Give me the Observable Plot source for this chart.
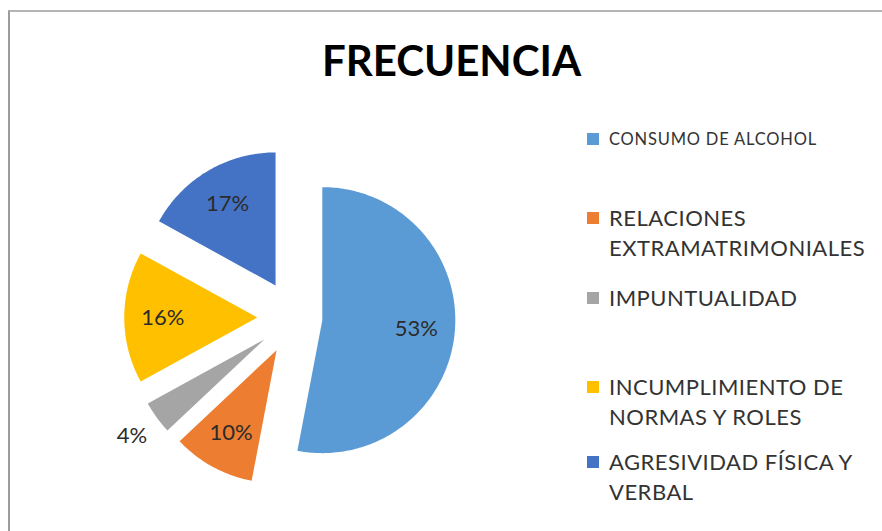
<!DOCTYPE html>
<html><head><meta charset="utf-8">
<script src="https://cdn.jsdelivr.net/npm/d3@7"></script>
<script src="https://cdn.jsdelivr.net/npm/@observablehq/plot@0.6"></script>
<style>
body{margin:0;background:#fff;}
#frame{position:relative;width:882px;height:531px;overflow:hidden;background:#fff;font-family:Lato,"Open Sans",sans-serif;}
#border{position:absolute;left:8px;top:10px;right:-5px;bottom:-5px;border-left:2px solid #9c9c9c;border-top:2px solid #b4b4b4;}
#title{position:absolute;left:0;width:903px;top:34px;text-align:center;font-weight:700;font-size:42px;line-height:52px;color:#000;}
#chart{position:absolute;left:0;top:100px;}
.item{position:absolute;left:587px;color:#333;}
.sw{position:absolute;left:0;width:12px;height:12px;}
.tx{position:absolute;left:22px;white-space:nowrap;}
</style></head>
<body>
<div id="frame">
<div id="border"></div>
<div id="title">FRECUENCIA</div>
<div id="chart"></div>
<div id="legend"></div>
</div>
<script>
const categories = ["CONSUMO DE ALCOHOL","RELACIONES EXTRAMATRIMONIALES","IMPUNTUALIDAD","INCUMPLIMIENTO DE NORMAS Y ROLES","AGRESIVIDAD FÍSICA Y VERBAL"];
const percents = [53,10,4,16,17];
const colors = ["#5B9BD5","#ED7D31","#A5A5A5","#FFC000","#4472C4"];
const legendLines = [["CONSUMO DE ALCOHOL"],["RELACIONES","EXTRAMATRIMONIALES"],["IMPUNTUALIDAD"],["INCUMPLIMIENTO DE","NORMAS Y ROLES"],["AGRESIVIDAD FÍSICA Y","VERBAL"]];

// layout
const W = 570, H = 420, R = 133, CX = 294, CY = 217;
const explode = i => i === 0 ? 0.21 : 0.28;

const total = d3.sum(percents);
const points = [];
const labels = [];
let acc = 0;
percents.forEach((p, i) => {
  const a0 = acc / total * 2 * Math.PI;
  const a1 = (acc + p) / total * 2 * Math.PI;
  acc += p;
  const m = (a0 + a1) / 2;
  const ox = explode(i) * Math.sin(m), oy = -explode(i) * Math.cos(m);
  points.push({cat: categories[i], color: colors[i], x: ox, y: oy});
  const n = Math.max(4, Math.ceil((a1 - a0) / (Math.PI / 180)));
  for (let k = 0; k <= n; k++) {
    const a = a0 + (a1 - a0) * k / n;
    points.push({cat: categories[i], color: colors[i], x: ox + Math.sin(a), y: oy - Math.cos(a)});
  }
  const lr = p < 5 ? 1.23 : 0.71;
  labels.push({text: p + "%", x: ox + lr * Math.sin(m), y: oy - lr * Math.cos(m)});
});

const plot = Plot.plot({
  width: W, height: H,
  margin: 0,
  x: {domain: [-CX / R, (W - CX) / R], range: [0, W], axis: null},
  y: {domain: [-CY / R, (H - CY) / R], range: [0, H], axis: null},
  color: {type: "identity"},
  style: {background: "transparent", fontFamily: "Lato, 'Open Sans', sans-serif"},
  marks: [
    Plot.line(points, {x: "x", y: "y", z: "cat", fill: "color", stroke: "none", curve: "linear-closed"}),
    Plot.text(labels, {x: "x", y: "y", text: "text", fontSize: 22, fill: "#2b2b2b"})
  ]
});
document.getElementById("chart").appendChild(plot);

// legend
const legendTop = [139, 218, 298, 387, 462];
const legendSize = [16.5, 22, 22, 22, 22];
const legendSpacing = [0.8, 0.5, 0.5, 0.5, 0.5];
const lineGap = 30;
const lg = document.getElementById("legend");
legendLines.forEach((lines, i) => {
  const it = document.createElement("div");
  it.className = "item";
  it.style.top = legendTop[i] + "px";
  const sw = document.createElement("div");
  sw.className = "sw";
  sw.style.background = colors[i];
  sw.style.top = "-6px";
  it.appendChild(sw);
  lines.forEach((t, j) => {
    const tx = document.createElement("div");
    tx.className = "tx";
    tx.textContent = t;
    tx.style.fontSize = legendSize[i] + "px";
    tx.style.letterSpacing = legendSpacing[i] + "px";
    tx.style.lineHeight = lineGap + "px";
    tx.style.top = (j * lineGap - lineGap / 2) + "px";
    it.appendChild(tx);
  });
  lg.appendChild(it);
});
</script>
</body></html>
